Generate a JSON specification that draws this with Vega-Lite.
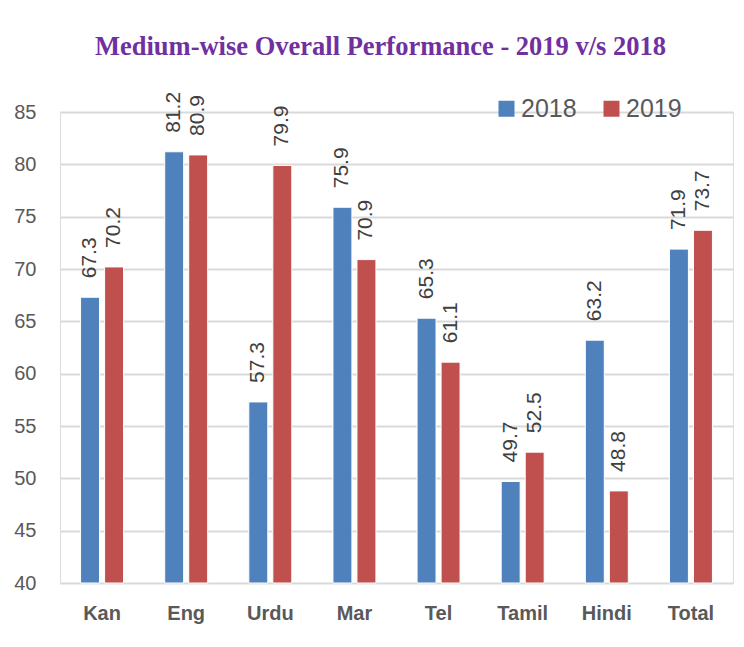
{
  "$schema": "https://vega.github.io/schema/vega-lite/v6.json",
  "autosize": {"type": "none"},
  "width": 673,
  "height": 471,
  "padding": {"left": 60, "top": 112, "right": 11, "bottom": 64},
  "background": "white",
  "title": {
    "text": "Medium-wise Overall Performance - 2019 v/s 2018",
    "font": "Liberation Serif",
    "fontSize": 26.5,
    "fontWeight": "bold",
    "color": "#7030A0",
    "anchor": "middle",
    "frame": "group",
    "baseline": "alphabetic",
    "offset": 10,
    "dx": -16
  },
  "data": {
    "values": [
      {"medium": "Kan", "year": "2018", "value": 67.3},
      {"medium": "Kan", "year": "2019", "value": 70.2},
      {"medium": "Eng", "year": "2018", "value": 81.2},
      {"medium": "Eng", "year": "2019", "value": 80.9},
      {"medium": "Urdu", "year": "2018", "value": 57.3},
      {"medium": "Urdu", "year": "2019", "value": 79.9},
      {"medium": "Mar", "year": "2018", "value": 75.9},
      {"medium": "Mar", "year": "2019", "value": 70.9},
      {"medium": "Tel", "year": "2018", "value": 65.3},
      {"medium": "Tel", "year": "2019", "value": 61.1},
      {"medium": "Tamil", "year": "2018", "value": 49.7},
      {"medium": "Tamil", "year": "2019", "value": 52.5},
      {"medium": "Hindi", "year": "2018", "value": 63.2},
      {"medium": "Hindi", "year": "2019", "value": 48.8},
      {"medium": "Total", "year": "2018", "value": 71.9},
      {"medium": "Total", "year": "2019", "value": 73.7}
    ]
  },
  "encoding": {
    "x": {
      "field": "medium",
      "type": "nominal",
      "sort": ["Kan", "Eng", "Urdu", "Mar", "Tel", "Tamil", "Hindi", "Total"],
      "scale": {"paddingInner": 0.489, "paddingOuter": 0.2445},
      "axis": {
        "title": null,
        "labelAngle": 0,
        "domain": false,
        "ticks": false,
        "labelFont": "Liberation Sans",
        "labelFontSize": 20,
        "labelFontWeight": "bold",
        "labelColor": "#595959",
        "labelPadding": 20
      }
    },
    "xOffset": {
      "field": "year",
      "type": "nominal",
      "scale": {"paddingInner": 0.21}
    },
    "y": {
      "field": "value",
      "type": "quantitative",
      "scale": {"domain": [40, 85], "nice": false, "zero": false},
      "axis": {
        "title": null,
        "values": [40, 45, 50, 55, 60, 65, 70, 75, 80, 85],
        "domain": false,
        "ticks": false,
        "grid": true,
        "gridColor": "#D9D9D9",
        "gridWidth": 2,
        "labelFont": "Liberation Sans",
        "labelFontSize": 20,
        "labelColor": "#595959",
        "labelPadding": 24
      }
    }
  },
  "layer": [
    {
      "mark": {"type": "bar", "stroke": "white", "strokeWidth": 1},
      "encoding": {
        "y2": {"datum": 40},
        "color": {
          "field": "year",
          "type": "nominal",
          "scale": {"domain": ["2018", "2019"], "range": ["#4F81BD", "#C0504D"]},
          "legend": {
            "title": null,
            "orient": "none",
            "direction": "horizontal",
            "legendX": 434,
            "legendY": -16,
            "padding": 0,
            "symbolType": "square",
            "symbolSize": 256,
            "symbolStrokeWidth": 0,
            "symbolOpacity": 1,
            "labelFont": "Liberation Sans",
            "labelFontSize": 25,
            "labelColor": "#595959",
            "labelOffset": 2,
            "columnPadding": 22
          }
        }
      }
    },
    {
      "mark": {
        "type": "text",
        "angle": 270,
        "align": "left",
        "baseline": "middle",
        "dx": 19,
        "font": "Liberation Sans",
        "fontSize": 21,
        "color": "#404040"
      },
      "encoding": {
        "text": {"field": "value", "type": "quantitative", "format": ".1f"}
      }
    }
  ]
}
